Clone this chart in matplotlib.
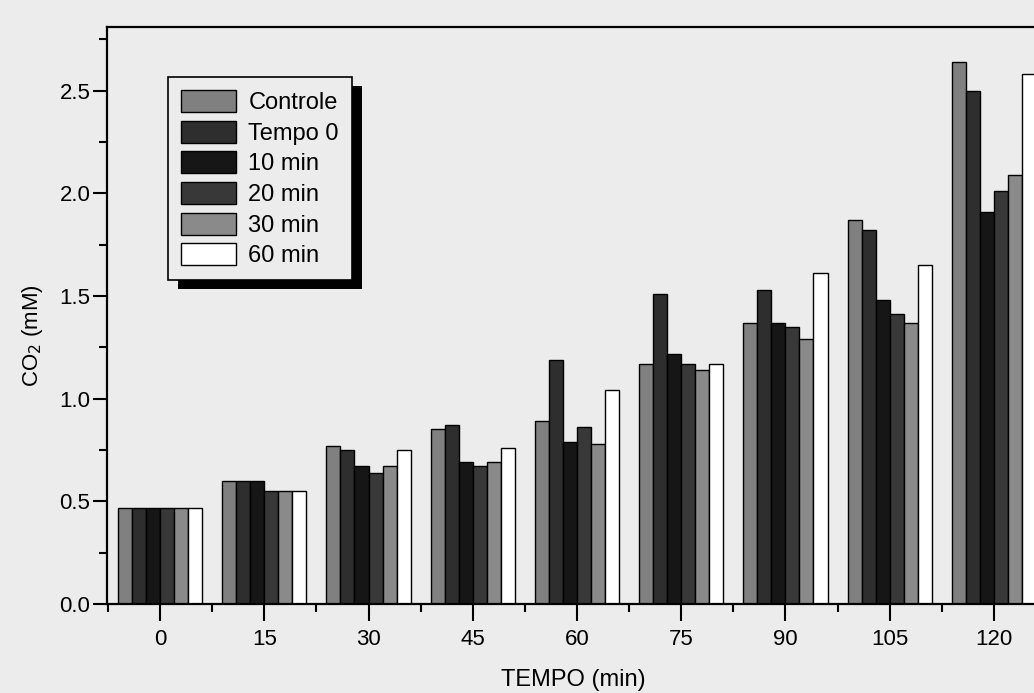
import numpy as np
import matplotlib.pyplot as plt
from matplotlib.patches import Rectangle
from matplotlib.ticker import MultipleLocator

plt.rcParams['font.family'] = ['Liberation Sans', 'DejaVu Sans']

# tempo de coleta (min)
tempos = [0, 15, 30, 45, 60, 75, 90, 105, 120]
series = ['Controle', 'Tempo 0', '10 min', '20 min', '30 min', '60 min']

controle = [0.47, 0.60, 0.77, 0.85, 0.89, 1.17, 1.37, 1.87, 2.64]
tempo0   = [0.47, 0.60, 0.75, 0.87, 1.19, 1.51, 1.53, 1.82, 2.50]
min10    = [0.47, 0.60, 0.67, 0.69, 0.79, 1.22, 1.37, 1.48, 1.91]
min20    = [0.47, 0.55, 0.64, 0.67, 0.86, 1.17, 1.35, 1.41, 2.01]
min30    = [0.47, 0.55, 0.67, 0.69, 0.78, 1.14, 1.29, 1.37, 2.09]
min60    = [0.47, 0.55, 0.75, 0.76, 1.04, 1.17, 1.61, 1.65, 2.58]

valores = [controle, tempo0, min10, min20, min30, min60]
cores = ['#808080', '#2e2e2e', '#161616', '#383838', '#8a8a8a', '#ffffff']

bg = '#ececec'
fig = plt.figure(figsize=(10.34, 6.93), dpi=100, facecolor=bg)
ax = fig.add_axes([0.1035, 0.1284, 0.902, 0.8326], facecolor=bg)

x = np.array(tempos, dtype=float)
w = 2.02
for i in range(len(series)):
    ax.bar(x + (i - 2.5) * w, valores[i], width=w, color=cores[i],
           edgecolor='black', linewidth=1.0, label=series[i], zorder=2)

ax.set_xlim(-7.64, 126.6)
ax.set_ylim(0, 2.81)
ax.set_xticks(tempos)
ax.set_xticklabels([str(t) for t in tempos])
ax.set_xticks([t + 7.5 for t in tempos[:-1]] + [-7.5], minor=True)
ax.yaxis.set_major_locator(MultipleLocator(0.5))
ax.yaxis.set_minor_locator(MultipleLocator(0.25))
ax.yaxis.set_major_formatter(plt.FormatStrFormatter('%.1f'))

ax.tick_params(axis='both', which='major', direction='out', length=10, width=1.5,
               labelsize=16, pad=2)
ax.tick_params(axis='both', which='minor', direction='out', length=6, width=1.5)
ax.tick_params(axis='x', which='major', length=12, pad=6)
for s in ax.spines.values():
    s.set_linewidth(1.6)

ax.set_xlabel('TEMPO (min)', fontsize=17, labelpad=14)
ax.set_ylabel('CO$_2$ (mM)', fontsize=16)
ax.yaxis.set_label_coords(-0.066, 0.466)

leg = ax.legend(loc='upper left', bbox_to_anchor=(0.0654, 0.913), fontsize=17,
                frameon=True, fancybox=False, handlelength=2.35, handleheight=1.05,
                labelspacing=0.28, handletextpad=0.5, borderpad=0.55,
                borderaxespad=0)
leg.get_frame().set_edgecolor('black')
leg.get_frame().set_linewidth(1.2)
leg.get_frame().set_facecolor(bg)
leg.get_frame().set_alpha(1)
leg.set_zorder(5)

# sombra da legenda
fig.canvas.draw()
bb = leg.get_window_extent().transformed(fig.transFigure.inverted())
dx, dy = 10 / 1034, 9 / 693
sombra = Rectangle((bb.x0 + dx, bb.y0 - dy), bb.width, bb.height,
                   transform=fig.transFigure, facecolor='black', edgecolor='none',
                   zorder=4)
ax.add_artist(sombra)

fig.savefig('out.png', dpi=100, facecolor=bg)
